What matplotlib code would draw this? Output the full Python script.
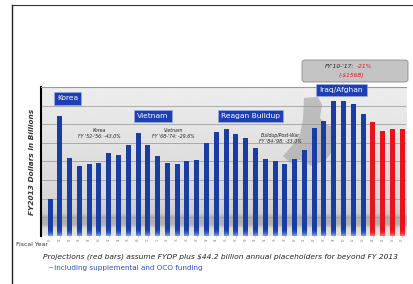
import numpy as np
import matplotlib
matplotlib.use("Agg")
from matplotlib import pyplot as plt
from matplotlib.colors import LinearSegmentedColormap
from matplotlib.lines import Line2D
from matplotlib.patches import Polygon, FancyBboxPatch

# fiscal years (labels under bars, illegible in the source)
years = ['50', '52', '54', '56', '58', '60', '62', '64', '66', '68',
         '70', '72', '74', '76', '78', '80', '82', '84', '86', '88',
         '90', '92', '94', '96', '98', '00', '02', '04', '06', '08',
         '10', '12', '13', '14', '15', '16', '17']
# FY2013 dollars, billions
budget = [199, 644, 419, 376, 387, 392, 446, 435, 489, 553,
          489, 430, 392, 387, 403, 408, 499, 558, 575, 548,
          526, 472, 413, 403, 387, 413, 462, 580, 617, 725,
          725, 709, 655, 612, 564, 575, 575]
n_proj = 4  # last bars are projections (red)

periods = ['Korea', 'Vietnam', 'Reagan Buildup', 'Iraq/Afghan']
drawdowns = ["Korea\nFY '52-'56: -43.0%",
             "Vietnam\nFY '68-'74: -29.6%",
             "Buildup/Post-War\nFY '84-'98: -33.0%"]

fig = plt.figure(figsize=(4.13, 2.84), dpi=100)
ax = fig.add_axes([0.099, 0.169, 0.884, 0.525])

x = np.arange(len(budget))
xlim = (-0.92, len(budget) - 0.6)
ylim = (0, 800)

# gray background with a darker band near the bottom
yy = np.linspace(0, 800, 400)
shade = np.interp(yy, [0, 40, 60, 100, 120, 200, 800], [0.9, 0.86, 0.7, 0.68, 0.8, 0.84, 0.93])
ax.imshow(shade.reshape(-1, 1), extent=[xlim[0], xlim[1], 0, 800], origin='lower',
          aspect='auto', cmap='gray', vmin=0, vmax=1, zorder=0)
for g in range(100, 800, 100):
    ax.axhline(g, color='#a0a0a0', lw=0.6, zorder=1)

# map silhouette behind the Iraq/Afghan bars
sil = [(304, 98), (318, 97), (322, 105), (320, 118), (327, 125), (336, 128), (336, 146),
       (326, 160), (312, 166), (300, 160), (290, 163), (283, 156), (292, 146), (300, 135), (303, 120)]
ax.add_patch(Polygon([((px - 41) / 365, (236 - py) / 149) for px, py in sil], closed=True,
                     transform=ax.transAxes, fc='#9a9a9a', ec='none', alpha=0.55, zorder=1))

blue_cmap = LinearSegmentedColormap.from_list('b', ['#7f9fe0', '#3a62c8', '#1d42a8', '#1a3da2'])
red_cmap = LinearSegmentedColormap.from_list('r', ['#ff7070', '#f02a2a', '#e8141b', '#e8141b'])
cols = ['#1c3fa4'] * (len(budget) - n_proj) + ['#e8141b'] * n_proj
bars = ax.bar(x, budget, width=0.48, color=cols, zorder=2)
for i, b in enumerate(bars):
    cm = red_cmap if i >= len(budget) - n_proj else blue_cmap
    h = b.get_height()
    fade = np.clip(np.linspace(0, h, 200) / 45, 0, 1).reshape(-1, 1)
    im = ax.imshow(fade, extent=[b.get_x(), b.get_x() + b.get_width(), 0, h],
                   origin='lower', aspect='auto', cmap=cm, vmin=0, vmax=1, zorder=3)
    im.set_clip_path(b)

ax.set_xlim(*xlim)
ax.set_ylim(*ylim)
ax.set_xticks(x)
ax.set_xticklabels(years, fontsize=2.0, rotation=90, color='#666666')
ax.tick_params(axis='x', length=1.0, width=0.4, pad=0.4, colors='#888888')
ax.set_yticks([])
for s in ['right', 'bottom']:
    ax.spines[s].set_visible(False)
ax.spines['top'].set_color('#999999')
ax.spines['top'].set_linewidth(0.8)
ax.spines['left'].set_linewidth(1.5)

ax.set_ylabel('FY2013 Dollars in Billions', fontsize=5.3, fontstyle='italic',
              fontweight='bold', color='#333333', labelpad=4)

# period boxes
box = dict(boxstyle='square,pad=0.45', fc='#1d3fb5', ec='#9fb0e0', lw=0.4)
ax.text(1.8, 738, periods[0], fontsize=5.4, color='white', ha='center', va='center', bbox=box, zorder=5)
ax.text(10.5, 644, periods[1], fontsize=5.4, color='white', ha='center', va='center', bbox=box, zorder=5)
ax.text(20.5, 644, periods[2], fontsize=5.4, color='white', ha='center', va='center', bbox=box, zorder=5)
ax.text(29.8, 784, periods[3], fontsize=5.4, color='white', ha='center', va='center', bbox=box, zorder=5)

# drawdown notes
note = dict(fontsize=3.3, fontstyle='italic', ha='center', va='center', color='#222222',
            linespacing=1.3, zorder=5)
ax.text(5.1, 550, drawdowns[0], **note)
ax.text(12.6, 550, drawdowns[1], **note)
ax.text(23.6, 525, drawdowns[2], **note)

# FY'10-'17 callout
fig.patches.append(FancyBboxPatch(
    (302 / 413, 1 - 82 / 284), 106 / 413, 22 / 284, boxstyle='round,pad=0,rounding_size=0.008',
    transform=fig.transFigure, fc='#c4c4c4', ec='#8a8a8a', lw=0.6))
fig.text(354 / 413, 1 - 66 / 284, "FY'10-'17:", fontsize=4.2, fontstyle='italic',
         ha='right', va='center', color='#222222')
fig.text(357 / 413, 1 - 66 / 284, "-21%", fontsize=4.2, fontstyle='italic',
         ha='left', va='center', color='#e8141b')
fig.text(351 / 413, 1 - 75 / 284, "(-$156B)", fontsize=4.2, fontstyle='italic',
         ha='center', va='center', color='#e8141b')

fig.text(16 / 413, 1 - 245 / 284, 'Fiscal Year', fontsize=4.4, color='#333333', va='center')
fig.text(43 / 413, 1 - 257 / 284,
         'Projections (red bars) assume FYDP plus $44.2 billion annual placeholders for beyond FY 2013',
         fontsize=5.4, fontstyle='italic', color='#222222', va='center')
fig.text(48 / 413, 1 - 268 / 284, '~Including supplemental and OCO funding',
         fontsize=5.2, color='#2a4fc0', va='center')

# slide border (top and left edges)
fig.add_artist(Line2D([12 / 413, 1], [1 - 5 / 284] * 2, transform=fig.transFigure, color='#333333', lw=0.8))
fig.add_artist(Line2D([12 / 413] * 2, [0, 1 - 5 / 284], transform=fig.transFigure, color='#222222', lw=1.0))

fig.savefig('out.png', dpi=100)
